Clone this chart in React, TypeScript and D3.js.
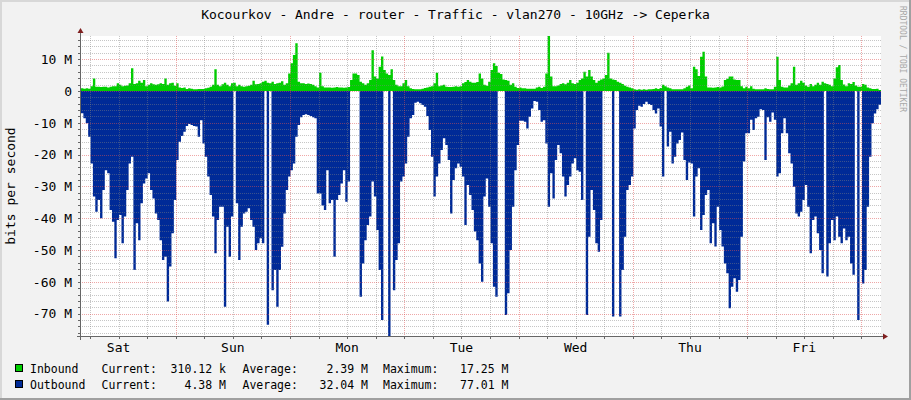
import React from "react";
import * as d3 from "d3";

const TITLE = "Kocourkov - Andre - router - Traffic - vlan270 - 10GHz -> Ceperka";
const Y_TITLE = "bits per second";
const WATERMARK = "RRDTOOL / TOBI OETIKER";
const DAY_LABELS = ["Sat", "Sun", "Mon", "Tue", "Wed", "Thu", "Fri"];
const DAY_NOON_HOURS = [-12, 12, 36, 60, 84, 108, 132];
const START_HOUR = -19.89; // hours relative to Sunday 00:00
const STEP_HOURS = 0.5;
const Y_MAJOR_TICKS = [10, 0, -10, -20, -30, -40, -50, -60, -70];

// Mbit/s, 30-minute steps
const INBOUND_M = [
  0.8, 0.7, 0.8, 0.7, 1.5, 3.9, 1.3, 1.3, 1.2, 1.3,
  1.3, 1.1, 1.3, 1.5, 1.5, 2.4, 1.9, 1.5, 1.6, 1.7,
  2.4, 7.1, 2.2, 2.4, 3.2, 2.6, 3.4, 1.5, 1.9, 2.4,
  2.1, 1.9, 2.1, 2.4, 2.2, 3.9, 1.9, 2.4, 2.6, 1.6,
  2.4, 1.1, 0.9, 1.1, 0.6, 0.8, 0.7, 0.5, 0.5, 0.6,
  0.6, 0.6, 0.8, 1.0, 1.3, 1.9, 6.8, 1.9, 1.5, 2.1,
  2.6, 1.9, 1.5, 2.4, 2.6, 1.5, 1.9, 1.5, 1.3, 1.5,
  1.6, 1.9, 3.2, 2.1, 2.2, 2.4, 2.9, 3.2, 2.6, 2.4,
  2.9, 2.2, 2.4, 2.6, 3.0, 1.9, 2.4, 5.5, 8.7, 11.3,
  15.0, 2.9, 2.4, 2.4, 2.2, 2.3, 2.2, 1.9, 1.5, 1.1,
  5.7, 1.5, 1.1, 1.1, 1.1, 1.0, 1.1, 1.2, 1.1, 1.1,
  1.0, 1.1, 1.2, 3.4, 5.5, 5.5, 5.0, 2.9, 2.4, 1.9,
  2.4, 3.4, 12.8, 4.5, 3.9, 7.6, 10.8, 6.6, 5.5, 5.0,
  6.8, 3.4, 1.9, 1.5, 1.5, 2.4, 3.4, 1.5, 0.8, 0.6,
  0.5, 0.5, 0.5, 0.7, 0.9, 1.1, 1.3, 1.5, 2.4, 5.7,
  1.5, 1.7, 1.9, 1.3, 1.2, 1.2, 1.3, 1.5, 1.3, 1.5,
  2.4, 2.8, 3.4, 2.9, 2.6, 2.6, 2.8, 5.5, 3.9, 1.9,
  1.6, 2.9, 6.6, 8.7, 7.8, 5.7, 5.3, 3.6, 3.4, 3.2,
  1.9, 2.4, 1.3, 0.9, 1.1, 0.8, 0.8, 0.7, 0.7, 0.7,
  0.7, 1.1, 1.3, 0.9, 1.3, 5.5, 17.25, 4.5, 1.5, 1.5,
  1.7, 2.2, 2.4, 2.1, 2.6, 3.4, 2.4, 2.2, 2.6, 3.4,
  3.9, 6.0, 4.5, 6.6, 4.5, 3.4, 2.6, 3.2, 3.6, 3.9,
  5.0, 12.0, 3.9, 3.6, 3.4, 2.9, 2.6, 2.2, 1.6, 1.3,
  1.1, 0.8, 0.5, 0.4, 0.5, 0.4, 0.5, 0.4, 0.5, 0.5,
  0.6, 0.8, 0.6, 0.9, 1.9, 1.5, 1.1, 0.8, 0.5, 0.5,
  0.5, 0.5, 0.5, 0.8, 1.3, 1.7, 0.8, 7.6, 6.8, 4.7,
  10.7, 12.3, 4.5, 1.1, 1.1, 1.0, 1.1, 1.2, 1.1, 1.4,
  3.4, 3.8, 4.5, 4.5, 3.6, 3.4, 3.4, 1.5, 0.8, 1.3,
  0.8, 1.5, 0.7, 0.5, 0.5, 0.5, 0.5, 0.8, 0.6, 0.5,
  0.5, 1.3, 10.7, 3.4, 1.3, 1.1, 1.1, 1.7, 2.4, 7.6,
  1.9, 2.4, 3.2, 2.6, 1.7, 1.3, 2.2, 1.5, 1.9, 2.6,
  1.9, 2.9, 2.4, 2.2, 1.9, 1.5, 3.9, 7.4, 8.1, 3.4,
  2.0, 1.5, 2.4, 2.2, 2.8, 1.7, 1.3, 1.3, 2.2, 1.9,
  1.1, 0.8, 0.6, 0.6, 0.7, 0.31,
];

const OUTBOUND_M = [
  7.0, 8.6, 10.2, 14.4, 22.8, 33.2, 38, 34.3, 40, 31.1,
  24.9, 25.9, 37.4, 41.1, 52.6, 40.6, 39, 47.9, 39.5, 31.1,
  22.8, 20.7, 56.3, 41.6, 46.9, 35.3, 29.1, 27.5, 25.9, 31.1,
  33.8, 38.5, 40.6, 46.9, 53.1, 52.1, 66.2, 55.2, 44.7, 34.3,
  21.7, 16, 14.2, 12.8, 11, 10.4, 10.7, 11, 11.2, 14.4,
  9.2, 16.5, 20.7, 26.9, 32.7, 39.5, 51, 40.6, 36.4, 36.4,
  67.8, 42.7, 52.1, 39.5, 0, 35.3, 53.1, 42.7, 38.5, 38,
  36.9, 40.6, 42.7, 50, 47.9, 46.3, 47.9, 0, 73.5, 0,
  62.6, 56.3, 67.8, 56.3, 49, 38.5, 31.1, 26.9, 24.9, 22.8,
  14.4, 10.7, 8.3, 7.6, 7.3, 7.6, 7.9, 8.3, 8.6, 32.2,
  32.2, 36, 37.4, 24.9, 35.3, 34.3, 52.1, 34.3, 32.7, 29.1,
  24.9, 34.8, 28.5, 0, 0, 0, 0, 64.7, 54.2, 46.9,
  42.1, 39.5, 28.5, 33.2, 43.7, 56.3, 72, 0, 0, 77.01,
  0, 62.6, 53.1, 47.9, 28.5, 26.9, 22.8, 14.4, 8.6, 7.6,
  3.7, 3.4, 3.9, 4.4, 5, 7.9, 12.3, 20.7, 33.2, 26.9,
  22.8, 18.6, 14.9, 17, 21.7, 38.5, 28, 24.3, 22.8, 23.8,
  26.9, 42.1, 29.6, 32.7, 37.4, 44.2, 46.9, 54.2, 60, 33.2,
  27.5, 36.4, 47.9, 61.5, 64.7, 0, 0, 0, 70.4, 63.6,
  50, 36.4, 24.9, 17, 9.4, 9.4, 9.7, 11.8, 8.1, 5.5,
  3.2, 3.4, 6, 9.7, 9.2, 16.5, 36.4, 25.9, 33.8, 21.7,
  17, 19.6, 26.9, 33.2, 29.6, 26.9, 22.8, 21.2, 24.9, 25.4,
  34.3, 0, 70.4, 45.8, 31.1, 37.4, 47.9, 50.5, 40.6, 0,
  0, 0, 0, 70.9, 0, 0, 70.9, 56.3, 45.8, 31.1,
  29.6, 26.9, 11.8, 6, 4.7, 5, 4.1, 3.4, 4.1, 4.4,
  6, 7.1, 5.5, 11.2, 26.9, 0, 17.5, 12.8, 22.8, 20.7,
  16.5, 15.4, 13.1, 21.7, 28, 22.5, 22.8, 39.5, 26.9, 24.3,
  43.7, 39, 32.7, 31.1, 47.9, 41.6, 48.9, 36.4, 43.7, 48.9,
  54.2, 57.3, 68.3, 61.5, 58.9, 63.1, 59.4, 45.8, 22.2, 13.3,
  13.3, 9.1, 12.3, 8.6, 8.1, 5.8, 6, 21.7, 8.3, 9.7,
  6.8, 9.1, 26.9, 25.9, 13.3, 8.6, 13.3, 19.6, 22.8, 30.1,
  38.5, 39.5, 38, 34.3, 29.6, 36.4, 51, 40.6, 39.5, 44.7,
  50, 57.3, 0, 58.3, 47.9, 40.6, 46.9, 39.5, 45.8, 47.9,
  43.2, 46.9, 45.8, 54.2, 57.8, 0, 72, 0, 60.5, 56.3,
  36.4, 20.7, 10.2, 7.1, 5.8, 4.38,
];

const LEGEND_NAMES = ["Inbound", "Outbound"];
const LEGEND_COLORS = ["#00CF00", "#002A97"];
const LEGEND_CURRENT = ["310.12 k", "4.38 M"];
const LEGEND_AVERAGE = ["2.39 M", "32.04 M"];
const LEGEND_MAXIMUM = ["17.25 M", "77.01 M"];

const FONT = "'DejaVu Sans Mono', monospace";

export default function App() {
  const W = 911;
  const H = 400;
  const left = 81;
  const right = 881;
  const top = 36;
  const bottom = 336;
  const n = INBOUND_M.length;
  const endHour = START_HOUR + n * STEP_HOURS;

  const x = d3.scaleLinear().domain([START_HOUR, endHour]).range([left, right]);
  const yMax = d3.max(INBOUND_M) as number;
  const yMin = -(d3.max(OUTBOUND_M) as number);
  const y = d3.scaleLinear().domain([yMin, yMax]).range([bottom, top]);

  const pts = (arr: number[], sign: number) => [
    ...arr.map((v, i) => ({ t: START_HOUR + i * STEP_HOURS, v: sign * v })),
    { t: endHour, v: sign * arr[n - 1] },
  ];
  const area = d3
    .area<{ t: number; v: number }>()
    .curve(d3.curveStepAfter)
    .x((d) => x(d.t))
    .y0(y(0))
    .y1((d) => y(d.v));

  const pix = (v: number) => Math.round(v);

  const yMinor = d3.range(Math.ceil(yMin / 2) * 2, yMax, 2).filter((v) => Math.abs(v % 10) > 0.01);
  const yMajor = d3.range(Math.ceil(yMin / 10) * 10, yMax, 10);
  const xMinor = d3.range(Math.ceil(START_HOUR / 6) * 6, endHour, 6).filter((h) => Math.abs(h % 24) > 0.01);
  const xMajor = d3.range(Math.ceil(START_HOUR / 24) * 24, endHour, 24);

  const gridColor = "#808080";
  const gridAlpha = 0.45;
  const mgridColor = "#DE5050";
  const mgridAlpha = 0.5;
  const arrowColor = "#7F1F1F";
  const axisColor = "#666666";

  const fmtY = (v: number) => (v === 0 ? "0" : `${v} M`);

  return (
    <svg
      width={W}
      height={H}
      style={{ position: "absolute", left: 0, top: 0, display: "block" }}
      fontFamily={FONT}
    >
      <defs>
        <pattern id="hg" width={2} height={1} patternUnits="userSpaceOnUse">
          <rect x={0} y={0} width={1} height={1} fill={gridColor} fillOpacity={gridAlpha} />
        </pattern>
        <pattern id="vg" width={1} height={2} patternUnits="userSpaceOnUse">
          <rect x={0} y={0} width={1} height={1} fill={gridColor} fillOpacity={gridAlpha} />
        </pattern>
        <pattern id="hm" width={2} height={1} patternUnits="userSpaceOnUse">
          <rect x={0} y={0} width={1} height={1} fill={mgridColor} fillOpacity={mgridAlpha} />
        </pattern>
        <pattern id="vm" width={1} height={2} patternUnits="userSpaceOnUse">
          <rect x={0} y={0} width={1} height={1} fill={mgridColor} fillOpacity={mgridAlpha} />
        </pattern>
      </defs>
      <rect x={0} y={0} width={W} height={H} fill="#F2F2F2" />
      {/* 3D frame */}
      <rect x={0} y={0} width={W} height={2} fill="#D8D8D8" />
      <rect x={0} y={0} width={2} height={H} fill="#D8D8D8" />
      <rect x={0} y={H - 2} width={W} height={2} fill="#A0A0A0" />
      <rect x={W - 2} y={0} width={2} height={H} fill="#A0A0A0" />

      {/* canvas */}
      <rect x={left} y={top} width={right - left} height={bottom - top} fill="#FFFFFF" />

      {/* data */}
      <path d={area(pts(OUTBOUND_M, -1)) || ""} fill={LEGEND_COLORS[1]} />
      <path d={area(pts(INBOUND_M, 1)) || ""} fill={LEGEND_COLORS[0]} />

      {/* grid */}
      <g shapeRendering="crispEdges">
        {yMinor.map((v) => (
          <rect key={"ym" + v} x={left} y={pix(y(v))} width={right - left} height={1} fill="url(#hg)" />
        ))}
        {xMinor.map((h) => (
          <rect key={"xm" + h} x={pix(x(h))} y={top} width={1} height={bottom - top} fill="url(#vg)" />
        ))}
        {yMajor.map((v) => (
          <rect key={"yM" + v} x={left} y={pix(y(v))} width={right - left} height={1} fill="url(#hm)" />
        ))}
        {xMajor.map((h) => (
          <rect key={"xM" + h} x={pix(x(h))} y={top} width={1} height={bottom - top} fill="url(#vm)" />
        ))}
      </g>

      {/* axes */}
      <g shapeRendering="crispEdges" fill={axisColor}>
        {[...yMinor, ...yMajor].map((v) => (
          <rect key={"yt" + v} x={left - 3} y={pix(y(v))} width={3} height={1} />
        ))}
        {[...xMinor, ...xMajor].map((h) => (
          <rect key={"xt" + h} x={pix(x(h))} y={bottom + 1} width={1} height={2} />
        ))}
        <rect x={left - 1} y={top - 5} width={1} height={bottom - top + 9} />
        <rect x={left - 4} y={bottom} width={right - left + 7} height={1} />
      </g>
      <path d={`M${left - 3.5},${top - 3} L${left + 2.5},${top - 3} L${left - 0.5},${top - 8} Z`} fill={arrowColor} />
      <path d={`M${right + 2},${bottom - 2.5} L${right + 2},${bottom + 3.5} L${right + 7},${bottom + 0.5} Z`} fill={arrowColor} />

      {/* y labels */}
      {Y_MAJOR_TICKS.filter((v) => v >= yMin && v <= yMax).map((v) => (
        <text key={"yl" + v} x={72} y={y(v) + 4.8} textAnchor="end" fontSize={13} fill="#000">
          {fmtY(v)}
        </text>
      ))}
      {/* x labels */}
      {DAY_LABELS.map((d, i) => (
        <text key={d} x={x(DAY_NOON_HOURS[i])} y={351.5} textAnchor="middle" fontSize={13} fill="#000">
          {d}
        </text>
      ))}

      {/* title */}
      <text x={W / 2} y={19} textAnchor="middle" fontSize={13} fill="#000">
        {TITLE}
      </text>
      <text transform={`translate(15,${(top + bottom) / 2}) rotate(-90)`} textAnchor="middle" fontSize={13} fill="#000">
        {Y_TITLE}
      </text>
      <text transform="translate(899.5,6) rotate(90)" fontSize={8} fill="#A8A8A8">
        {WATERMARK}
      </text>

      {/* legend */}
      {LEGEND_NAMES.map((name, i) => {
        const by = 373 + i * 16;
        return (
          <g key={name} fontSize={11.5} fill="#000">
            <rect x={15.5} y={by - 8.5} width={7} height={7} fill={LEGEND_COLORS[i]} stroke="#000" strokeWidth={1} shapeRendering="crispEdges" />
            <text x={30} y={by}>{name}</text>
            <text x={101.5} y={by}>Current:</text>
            <text x={226} y={by} textAnchor="end">{LEGEND_CURRENT[i]}</text>
            <text x={242.5} y={by}>Average:</text>
            <text x={368} y={by} textAnchor="end">{LEGEND_AVERAGE[i]}</text>
            <text x={383} y={by}>Maximum:</text>
            <text x={508.5} y={by} textAnchor="end">{LEGEND_MAXIMUM[i]}</text>
          </g>
        );
      })}
    </svg>
  );
}
